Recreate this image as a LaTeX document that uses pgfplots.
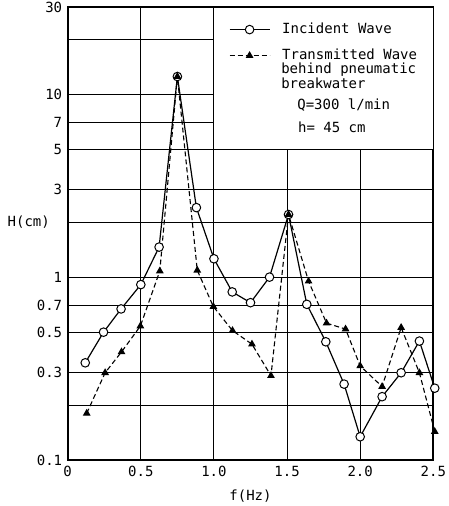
\documentclass[border=0pt]{standalone}
\usepackage{pgfplots}
\pgfplotsset{compat=1.18}
\usepackage{fontspec}
\setmainfont{DejaVu Sans Mono}

\begin{document}
\begin{tikzpicture}
\begin{axis}[
  name=ax,
  scale only axis,
  width=365.6pt, height=453pt,
  ymode=log,
  xmin=0, xmax=2.5,
  ymin=0.1, ymax=30,
  clip=false,
  font=\fontsize{14}{14.5}\selectfont,
  /pgf/number format/assume math mode=true,
  xtick={0,0.5,1,1.5,2,2.5},
  xticklabels={0,0.5,1.0,1.5,2.0,2.5},
  ytick={0.1,0.2,0.3,0.5,0.7,1,2,3,5,7,10,20,30},
  yticklabels={0.1,,0.3,0.5,0.7,1,,3,5,7,10,,30},
  log basis y=10,
  major tick length=0pt,
  grid=major,
  grid style={black, line width=0.9pt},
  axis line style={line width=2pt},
  yticklabel style={xshift=-2pt},
  xticklabel style={yshift=-3pt},
  xlabel={f(Hz)},
  xlabel style={yshift=-6pt},
  legend style={at={(axis cs:1.103,24.5)}, anchor=north west,
    draw=none, fill=none, inner sep=0pt, outer sep=0pt, row sep=13pt,
    nodes={inner sep=0pt, text height=10pt, text depth=3pt},
    /tikz/every odd column/.append style={column sep=12pt}},
  legend cell align=left,
  legend image code/.code={\draw[mark repeat=2,mark phase=2,#1]
    plot coordinates {(0pt,0pt)(20pt,0pt)(40pt,0pt)};},
]
% legend panel covering the grid
\fill[white] (axis cs:1.0,5) rectangle (axis cs:2.5,30);
\draw[line width=0.9pt] (axis cs:1.0,5) rectangle (axis cs:2.5,30);

\addplot[black, line width=1.2pt, mark=*, mark size=4.3pt,
  mark options={solid, fill=white, line width=1pt}] coordinates {
  (0.12,0.34) (0.245,0.5) (0.365,0.67) (0.5,0.91) (0.625,1.46)
  (0.75,12.5) (0.88,2.4) (1.0,1.26) (1.125,0.83) (1.25,0.725)
  (1.38,1.0) (1.51,2.2) (1.635,0.71) (1.765,0.443) (1.89,0.26)
  (2.0,0.134) (2.15,0.222) (2.28,0.30) (2.405,0.447) (2.51,0.247)};
\addlegendentry{Incident Wave}

\addplot[black, line width=1.1pt, dash pattern=on 5pt off 3pt,
  mark=triangle*, mark size=3.4pt, mark options={solid, fill=black}] coordinates {
  (0.13,0.18) (0.256,0.30) (0.368,0.39) (0.497,0.54) (0.63,1.08)
  (0.75,12.5) (0.886,1.09) (0.996,0.69) (1.127,0.51) (1.26,0.43)
  (1.39,0.289) (1.51,2.2) (1.647,0.95) (1.77,0.56) (1.9,0.52)
  (2.0,0.327) (2.15,0.252) (2.28,0.53) (2.405,0.30) (2.51,0.143)};
\addlegendentry{Transmitted Wave}

\node[anchor=base west, inner sep=0pt] at (axis cs:1.459,13.06) {behind pneumatic};
\node[anchor=base west, inner sep=0pt] at (axis cs:1.459,10.81) {breakwater};
\node[anchor=base west, inner sep=0pt] at (axis cs:1.569,8.30) {Q=300 l/min};
\node[anchor=base west, inner sep=0pt] at (axis cs:1.574,6.14) {h= 45 cm};
\node[anchor=east, inner sep=0pt] at ([xshift=-17.7pt]axis cs:0,2) {H(cm)};
\end{axis}
\pgfresetboundingbox
\path ([shift={(-67.7pt,-46pt)}]ax.south west) rectangle ([shift={(15.7pt,7pt)}]ax.north east);
\end{tikzpicture}
\end{document}
